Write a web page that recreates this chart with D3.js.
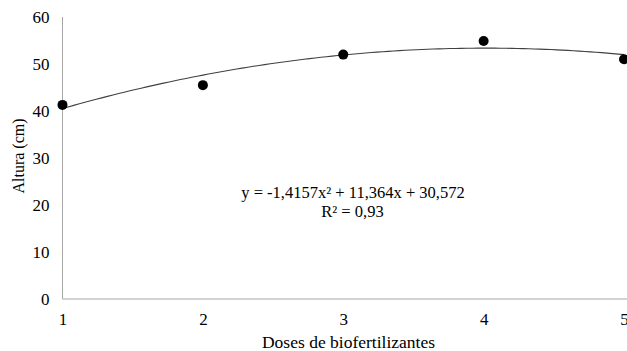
<!DOCTYPE html>
<html><head><meta charset="utf-8">
<script src="https://cdn.jsdelivr.net/npm/d3@7"></script>
<style>body{margin:0;background:#fff}svg{display:block}</style>
</head><body><svg id="c" width="627" height="351"></svg>
<script>
const doses = [1, 2, 3, 4, 5];
const altura = [41.3, 45.5, 52.0, 54.9, 51.0];
const coef = [-1.4157, 11.364, 30.572];
const yTicks = [0, 10, 20, 30, 40, 50, 60];
const eqLabel = "y = -1,4157x² + 11,364x + 30,572";
const r2Label = "R² = 0,93";

const ST = s => `font-family:'Liberation Serif';font-size:${s}px`;
const svg = d3.select("#c");
const x = d3.scaleLinear().domain([1, 5]).range([62.5, 624]);
const y = d3.scaleLinear().domain([0, 60]).range([299, 17]);

// axes
const ya = svg.append("g").attr("transform", `translate(${x(1)},0)`)
  .call(d3.axisLeft(y).tickValues(yTicks).tickSize(0).tickPadding(13));
ya.attr("font-family", null).attr("font-size", null);
ya.select(".domain").attr("stroke", "#a6a6a6").attr("d", `M0,${y(60)}V${y(0)}`);
ya.selectAll("text").attr("fill", "#000").attr("style", ST(17));

const xa = svg.append("g").attr("transform", `translate(0,${y(0)})`)
  .call(d3.axisBottom(x).tickValues(doses).tickFormat(d3.format("d")).tickSize(0).tickPadding(14));
xa.attr("font-family", null).attr("font-size", null);
xa.select(".domain").attr("stroke", "#a6a6a6").attr("d", `M${x(1)},0H${x(5)+3}`);
xa.selectAll("text").attr("fill", "#000").attr("style", ST(17));

// trendline
const f = t => coef[0]*t*t + coef[1]*t + coef[2];
const xs = d3.range(0, 101).map(i => 1 + i*0.04);
svg.append("path").datum(xs)
  .attr("fill", "none").attr("stroke", "#404040").attr("stroke-width", 1.1)
  .attr("d", d3.line().x(d => x(d)).y(d => y(f(d))));

// points
svg.selectAll("circle.p").data(doses).join("circle")
  .attr("cx", d => x(d)).attr("cy", (d, i) => y(altura[i])).attr("r", 5).attr("fill", "#000");

// equation
const T = (px, py, s) => svg.append("text").attr("x", px).attr("y", py).attr("text-anchor", "middle")
  .attr("style", ST(s)).attr("fill", "#000");
T(353, 198, 16.5).text(eqLabel);
T(352.5, 217, 16.5).text(r2Label);

// titles
T(348.5, 348, 17.5).text("Doses de biofertilizantes");
svg.append("text").attr("transform", "translate(24,156) rotate(-90)").attr("text-anchor", "middle")
  .attr("style", ST(16)).attr("fill", "#000").text("Altura (cm)");
</script></body></html>
